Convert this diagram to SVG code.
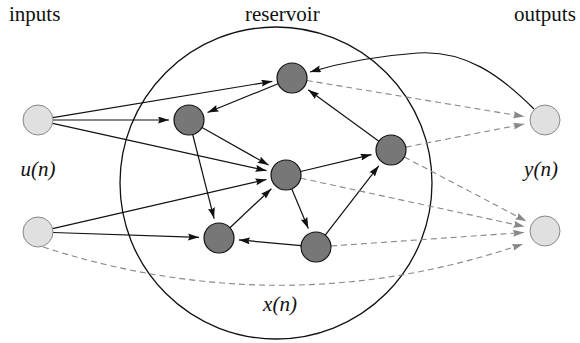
<svg xmlns="http://www.w3.org/2000/svg" width="580" height="343" viewBox="0 0 580 343">
<style>
text{font-size:21px;fill:#111}
.it{font-style:italic}
.res{fill:#777;stroke:#111;stroke-width:1.2}
.io{fill:#e0e0e0;stroke:#888;stroke-width:1}
.e{fill:none;stroke:#111;stroke-width:1.2;marker-end:url(#ab)}
.d{fill:none;stroke:#888;stroke-width:1.1;stroke-dasharray:6,4;marker-end:url(#ag)}
</style>
<defs>
<marker id="ab" markerUnits="userSpaceOnUse" markerWidth="12" markerHeight="8" refX="11" refY="3.5" orient="auto"><path d="M0,0 L11,3.5 L0,7 L1.5,3.5 z" fill="#111"/></marker>
<marker id="ag" markerUnits="userSpaceOnUse" markerWidth="12" markerHeight="8" refX="11" refY="3.5" orient="auto"><path d="M0,0 L11,3.5 L0,7 L1.5,3.5 z" fill="#888"/></marker>
</defs>
<g id="labels">
<text font-family="Liberation Serif" x="9" y="21">inputs</text>
<text font-family="Liberation Serif" x="245" y="21">reservoir</text>
<text font-family="Liberation Serif" x="514" y="21">outputs</text>
<text font-family="Liberation Serif" class="it" x="38" y="176" text-anchor="middle">u(n)</text>
<text font-family="Liberation Serif" class="it" x="541" y="176" text-anchor="middle">y(n)</text>
<text font-family="Liberation Serif" class="it" x="280" y="311" text-anchor="middle">x(n)</text>
</g>
<g id="reservoir"><circle cx="276" cy="183" r="156" fill="none" stroke="#111" stroke-width="1.3"/></g>
<g id="connectors">
<path class="e" d="M52.8,117.6 L272.3,81.3"/>
<path class="e" d="M53,120 L169,120"/>
<path class="e" d="M52.6,123.3 L266.5,170.7"/>
<path class="e" d="M52.6,228.6 L266.5,179.5"/>
<path class="e" d="M53,232.5 L199,237.3"/>
<path class="e" d="M278.1,83.7 L207.5,112.5"/>
<path class="e" d="M202,127.4 L268.6,165.1"/>
<path class="e" d="M192.7,134.5 L214.1,218.6"/>
<path class="e" d="M229.9,227.7 L271.4,188.7"/>
<path class="e" d="M291.8,188.9 L308.3,228.5"/>
<path class="e" d="M301.1,245.6 L238.9,239.9"/>
<path class="e" d="M325.2,235.1 L378.8,165.8"/>
<path class="e" d="M378.9,141.2 L308.2,89.8"/>
<path class="e" d="M300.6,171.5 L371.5,154.6"/>
<path class="e" d="M534,109 C500,75 465,50 418,53 C375,56 340,63 310,72"/>
<path class="d" d="M306.8,80.5 L524.3,116.6"/>
<path class="d" d="M405.7,147.1 L524.4,124"/>
<path class="d" d="M404.3,157 L526.4,221.2"/>
<path class="d" d="M300.7,178.2 L524.5,226.6"/>
<path class="d" d="M331,246 L524,232.5"/>
<path class="d" d="M43,247 Q285,325 523,244"/>
</g>
<g id="in1"><circle class="io" cx="38" cy="120" r="15"/></g>
<g id="in2"><circle class="io" cx="38" cy="232" r="15"/></g>
<g id="out1"><circle class="io" cx="545" cy="120" r="15"/></g>
<g id="out2"><circle class="io" cx="545" cy="231" r="15"/></g>
<g id="nA"><circle class="res" cx="292" cy="78" r="15"/></g>
<g id="nB"><circle class="res" cx="189" cy="120" r="15"/></g>
<g id="nC"><circle class="res" cx="286" cy="175" r="15"/></g>
<g id="nD"><circle class="res" cx="391" cy="150" r="15"/></g>
<g id="nE"><circle class="res" cx="219" cy="238" r="15"/></g>
<g id="nF"><circle class="res" cx="316" cy="247" r="15"/></g>
</svg>
